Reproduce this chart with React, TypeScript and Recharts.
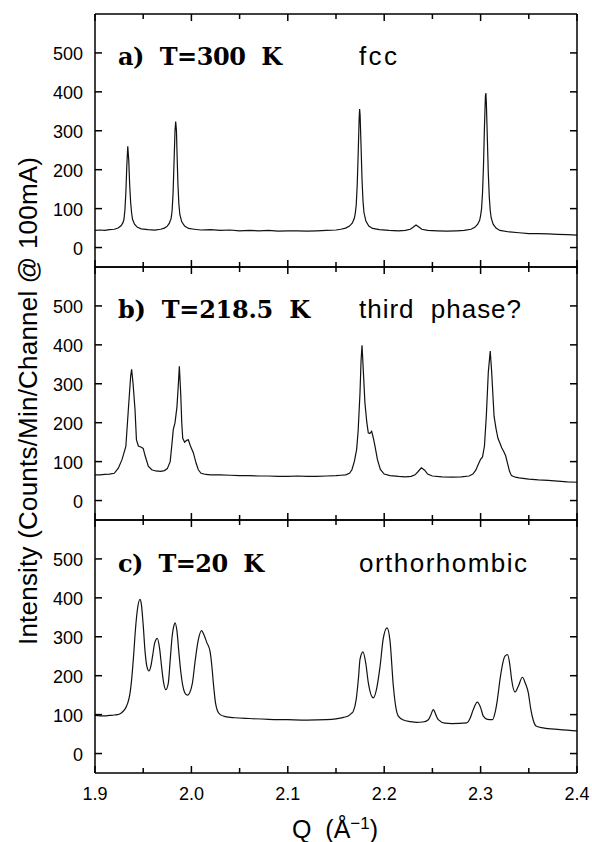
import React from 'react';
import { LineChart, Line, XAxis, YAxis } from 'recharts';

// Panel a) T=300 K (fcc): [Q, counts]
const panelA: [number, number][] = [
  [1.900,44],[1.905,45],[1.910,44],[1.915,46],[1.920,47],[1.924,50],[1.927,56],[1.929,64],[1.930,72],[1.931,95],[1.932,140],[1.933,210],[1.934,260],[1.935,225],[1.936,160],[1.937,115],[1.938,88],[1.939,72],[1.941,60],[1.944,52],[1.948,48],[1.955,46],[1.962,45],[1.968,47],[1.972,50],[1.975,55],[1.977,62],[1.979,75],[1.980,95],[1.981,140],[1.982,220],[1.983,300],[1.9837,324],[1.9845,300],[1.985,250],[1.986,165],[1.987,112],[1.988,85],[1.990,66],[1.993,55],[1.997,49],[2.003,47],[2.010,45],[2.020,46],[2.030,44],[2.040,45],[2.050,43],[2.060,44],[2.070,43],[2.080,44],[2.090,42],[2.100,43],[2.110,43],[2.120,42],[2.130,43],[2.140,44],[2.150,45],[2.155,47],[2.160,50],[2.164,55],[2.167,63],[2.169,75],[2.170,88],[2.171,110],[2.172,160],[2.173,240],[2.174,330],[2.1745,356],[2.175,340],[2.176,260],[2.177,175],[2.178,120],[2.179,90],[2.181,68],[2.184,55],[2.188,49],[2.195,46],[2.205,44],[2.215,43],[2.222,44],[2.227,47],[2.230,52],[2.233,58],[2.236,53],[2.239,47],[2.245,44],[2.255,43],[2.265,42],[2.275,43],[2.283,44],[2.290,47],[2.294,52],[2.297,60],[2.299,70],[2.300,82],[2.301,100],[2.302,140],[2.303,210],[2.304,310],[2.305,390],[2.3055,397],[2.306,370],[2.307,280],[2.308,190],[2.309,130],[2.310,95],[2.311,76],[2.313,60],[2.316,50],[2.320,44],[2.330,40],[2.340,38],[2.350,36],[2.360,36],[2.370,35],[2.380,34],[2.390,33],[2.400,32]
];

// Panel b) T=218.5 K (third phase?)
const panelB: [number, number][] = [
  [1.900,66],[1.905,66],[1.910,67],[1.915,68],[1.920,70],[1.9242,83],[1.928,105],[1.932,139],[1.9346,234],[1.937,320],[1.938,337],[1.9395,300],[1.9415,234],[1.943,156],[1.945,140],[1.948,137],[1.950,134],[1.952,115],[1.9553,88],[1.9588,79],[1.963,76],[1.968,75],[1.972,77],[1.975,82],[1.978,100],[1.980,150],[1.9812,182],[1.983,200],[1.985,240],[1.9865,300],[1.9875,345],[1.989,270],[1.990,200],[1.991,160],[1.993,150],[1.995,155],[1.9968,156],[1.999,140],[2.002,123],[2.005,95],[2.0072,79],[2.010,70],[2.015,67],[2.020,66],[2.030,66],[2.040,65],[2.050,64],[2.060,64],[2.070,63],[2.080,63],[2.090,62],[2.100,62],[2.110,63],[2.120,62],[2.130,62],[2.140,63],[2.150,64],[2.155,65],[2.160,66],[2.164,70],[2.1665,79],[2.169,100],[2.1714,131],[2.173,180],[2.1749,277],[2.176,360],[2.177,399],[2.178,350],[2.180,251],[2.182,200],[2.1835,174],[2.185,172],[2.187,178],[2.189,158],[2.1905,139],[2.193,105],[2.196,80],[2.200,68],[2.206,64],[2.215,62],[2.222,61],[2.228,62],[2.232,66],[2.235,74],[2.2385,84],[2.242,78],[2.245,68],[2.250,63],[2.260,61],[2.270,60],[2.280,61],[2.288,63],[2.292,68],[2.295,78],[2.298,95],[2.300,106],[2.302,112],[2.304,140],[2.306,220],[2.308,330],[2.310,384],[2.3115,330],[2.313,260],[2.314,216],[2.316,185],[2.318,160],[2.320,148],[2.322,135],[2.324,126],[2.326,115],[2.328,95],[2.330,75],[2.332,64],[2.336,60],[2.340,58],[2.350,55],[2.360,53],[2.370,52],[2.380,50],[2.390,48],[2.400,47]
];

// Panel c) T=20 K (orthorhombic)
const panelC: [number, number][] = [
  [1.900,98],[1.905,97],[1.910,97],[1.915,98],[1.920,99],[1.925,101],[1.929,108],[1.932,118],[1.934,130],[1.936,150],[1.938,190],[1.940,250],[1.942,320],[1.944,370],[1.9467,396],[1.948,385],[1.950,330],[1.952,260],[1.954,222],[1.956,212],[1.958,225],[1.960,255],[1.962,285],[1.9646,296],[1.967,270],[1.969,225],[1.971,185],[1.9735,164],[1.976,180],[1.978,240],[1.980,300],[1.982,330],[1.983,336],[1.985,315],[1.987,260],[1.989,210],[1.991,175],[1.993,157],[1.9958,150],[1.998,155],[2.001,180],[2.004,240],[2.007,290],[2.0105,316],[2.013,305],[2.016,285],[2.0193,263],[2.021,230],[2.023,175],[2.025,130],[2.027,110],[2.030,100],[2.035,95],[2.045,92],[2.060,90],[2.080,88],[2.100,87],[2.120,86],[2.140,87],[2.150,89],[2.158,93],[2.163,97],[2.166,103],[2.168,109],[2.171,140],[2.1735,200],[2.1749,242],[2.178,261],[2.181,230],[2.1835,182],[2.1887,143],[2.192,165],[2.1957,224],[2.199,295],[2.2029,323],[2.206,290],[2.2095,173],[2.212,120],[2.2147,96],[2.220,86],[2.227,82],[2.2336,80],[2.240,81],[2.2458,87],[2.248,97],[2.251,113],[2.2535,100],[2.2561,87],[2.263,78],[2.270,77],[2.2856,79],[2.289,90],[2.2924,113],[2.2966,132],[2.300,118],[2.3028,96],[2.307,88],[2.3124,87],[2.315,105],[2.3175,140],[2.3201,190],[2.3253,250],[2.328,254],[2.3305,225],[2.3322,190],[2.3357,158],[2.339,172],[2.3433,196],[2.3465,180],[2.3495,156],[2.352,115],[2.3547,85],[2.358,70],[2.365,66],[2.370,64],[2.380,62],[2.390,60],[2.400,58]
];

const xTicks = [1.9, 1.95, 2.0, 2.05, 2.1, 2.15, 2.2, 2.25, 2.3, 2.35, 2.4];
const yTicks = [0, 100, 200, 300, 400, 500];
const xDomain: [number, number] = [1.9, 2.4];
const yDomain: [number, number] = [-50, 600];
const panelTitles = ['a)  T=300  K', 'b)  T=218.5  K', 'c)  T=20  K'];
const phaseLabels = ['fcc', 'third  phase?', 'orthorhombic'];
const yTitle = 'Intensity (Counts/Min/Channel @ 100mA)';

const SANS = '"Liberation Sans", Arial, Helvetica, sans-serif';
const SERIF = '"DejaVu Serif", "Liberation Serif", serif';
const FRAME = 1.5;

const isMajor = (v: number) => Math.abs(v * 10 - Math.round(v * 10)) < 1e-6;

const LeftTick = (props: any) => {
  const { x, y, payload } = props;
  return (
    <g>
      <line x1={x} x2={x + 7} y1={y} y2={y} stroke="#000" strokeWidth={FRAME} />
      <text x={x - 12} y={y} dy={7} textAnchor="end" fontSize={18} fontFamily={SANS} fill="#000">
        {payload.value}
      </text>
    </g>
  );
};

const RightTick = (props: any) => {
  const { x, y } = props;
  return <line x1={x - 7} x2={x} y1={y} y2={y} stroke="#000" strokeWidth={FRAME} />;
};

const TopTick = (props: any) => {
  const { x, y, payload } = props;
  const len = isMajor(payload.value) ? 7 : 5;
  return <line x1={x} x2={x} y1={y} y2={y + len} stroke="#000" strokeWidth={FRAME} />;
};

const makeBottomTick = (showLabel: boolean) => (props: any) => {
  const { x, y, payload } = props;
  const major = isMajor(payload.value);
  const len = major ? 7 : 5;
  return (
    <g>
      <line x1={x} x2={x} y1={y} y2={y - len} stroke="#000" strokeWidth={FRAME} />
      {showLabel && major ? (
        <text x={x} y={y + 27} textAnchor="middle" fontSize={18} fontFamily={SANS} fill="#000">
          {payload.value.toFixed(1)}
        </text>
      ) : null}
    </g>
  );
};

const BottomTickPlain = makeBottomTick(false);
const BottomTickLabel = makeBottomTick(true);

type PanelProps = {
  points: [number, number][];
  top: number;
  height: number;
  marginTop: number;
  bottomHeight: number;
  showXLabels: boolean;
  curve: 'linear' | 'monotone';
};

const Panel = ({ points, top, height, marginTop, bottomHeight, showXLabels, curve }: PanelProps) => {
  const rows = points.map(([q, v]) => ({ q, v }));
  return (
    <div style={{ position: 'absolute', left: 0, top, width: 592, height }}>
      <LineChart
        width={592}
        height={height}
        data={rows}
        margin={{ top: marginTop, right: 0, bottom: 0, left: 0 }}
      >
        <XAxis
          xAxisId="bottom"
          dataKey="q"
          type="number"
          domain={xDomain}
          ticks={xTicks}
          interval={0}
          allowDataOverflow
          height={bottomHeight}
          tickSize={0}
          tickMargin={0}
          tickLine={false}
          axisLine={{ stroke: '#000', strokeWidth: FRAME }}
          tick={showXLabels ? BottomTickLabel : BottomTickPlain}
        />
        <XAxis
          xAxisId="top"
          orientation="top"
          dataKey="q"
          type="number"
          domain={xDomain}
          ticks={xTicks}
          interval={0}
          allowDataOverflow
          height={1}
          tickSize={0}
          tickMargin={0}
          tickLine={false}
          axisLine={{ stroke: '#000', strokeWidth: FRAME }}
          tick={TopTick}
        />
        <YAxis
          yAxisId="left"
          type="number"
          domain={yDomain}
          ticks={yTicks}
          interval={0}
          allowDataOverflow
          width={95}
          tickSize={0}
          tickMargin={0}
          tickLine={false}
          axisLine={{ stroke: '#000', strokeWidth: FRAME }}
          tick={LeftTick}
        />
        <YAxis
          yAxisId="right"
          orientation="right"
          type="number"
          domain={yDomain}
          ticks={yTicks}
          interval={0}
          allowDataOverflow
          width={15}
          tickSize={0}
          tickMargin={0}
          tickLine={false}
          axisLine={{ stroke: '#000', strokeWidth: FRAME }}
          tick={RightTick}
        />
        {/* invisible twin so the top/right frame axes get a scale */}
        <Line
          xAxisId="top"
          yAxisId="right"
          dataKey="v"
          type="linear"
          stroke="none"
          strokeWidth={0}
          dot={false}
          activeDot={false}
          legendType="none"
          isAnimationActive={false}
        />
        <Line
          xAxisId="bottom"
          yAxisId="left"
          dataKey="v"
          type={curve}
          stroke="#111"
          strokeWidth={1.2}
          dot={false}
          activeDot={false}
          isAnimationActive={false}
        />
      </LineChart>
    </div>
  );
};

const titleBaselines = [65, 318, 572];
const titleLengths = [164, 192, 146];
const phaseLengths = [38, 162, 168];

export default function App() {
  return (
    <div style={{ position: 'absolute', left: 0, top: 0, width: 592, height: 842, background: '#fff' }}>
      <Panel points={panelA} top={0} height={268} marginTop={13} bottomHeight={1} showXLabels={false} curve="linear" />
      <Panel points={panelB} top={266} height={255} marginTop={0} bottomHeight={1} showXLabels={false} curve="linear" />
      <Panel points={panelC} top={519} height={323} marginTop={0} bottomHeight={69} showXLabels={true} curve="monotone" />
      <svg
        width={592}
        height={842}
        style={{ position: 'absolute', left: 0, top: 0, pointerEvents: 'none' }}
      >
        {panelTitles.map((t, i) => (
          <text
            key={'t' + i}
            x={118}
            y={titleBaselines[i]}
            fontSize={24}
            fontWeight="bold"
            fontFamily={SERIF}
            fill="#000"
            textLength={titleLengths[i]}
            lengthAdjust="spacing"
            style={{ whiteSpace: 'pre' }}
          >
            {t}
          </text>
        ))}
        {phaseLabels.map((t, i) => (
          <text
            key={'p' + i}
            x={359}
            y={titleBaselines[i]}
            fontSize={26}
            fontFamily={SANS}
            fill="#000"
            textLength={phaseLengths[i]}
            lengthAdjust="spacing"
            style={{ whiteSpace: 'pre' }}
          >
            {t}
          </text>
        ))}
        <text
          x={37}
          y={401}
          transform="rotate(-90 37 401)"
          textAnchor="middle"
          fontSize={26}
          fontFamily={SANS}
          fill="#000"
          textLength={488}
          lengthAdjust="spacing"
        >
          {yTitle}
        </text>
        <text x={292} y={838} fontSize={25} fontFamily={SANS} fill="#000" style={{ whiteSpace: 'pre' }}>
          {'Q  (Å'}
          <tspan dy={-9} fontSize={17}>{'−1'}</tspan>
          <tspan dy={9}>{')'}</tspan>
        </text>
      </svg>
    </div>
  );
}
